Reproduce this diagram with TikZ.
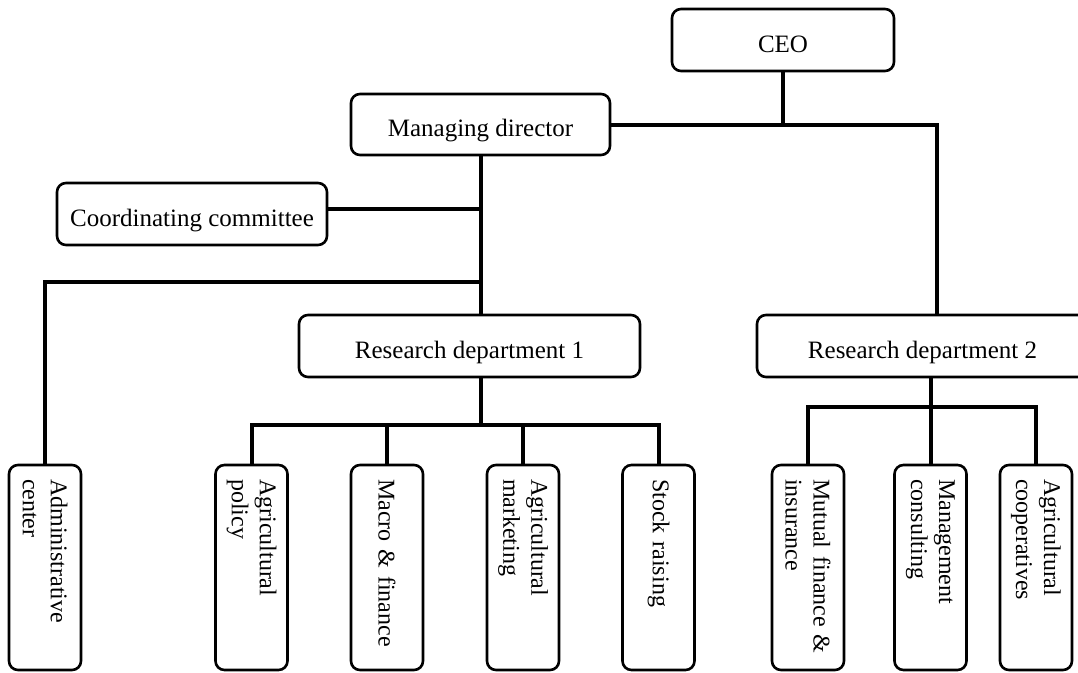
\documentclass[tikz,border=0pt]{standalone}
\usepackage{fontspec}
\setmainfont{Liberation Serif}
\usetikzlibrary{positioning}

\begin{document}
\begin{tikzpicture}[x=1pt,y=-1pt,
    box/.style={draw,line width=2.6pt,rounded corners=9pt,
      font=\fontsize{25}{29}\selectfont,text height=24pt,text depth=0pt,
      minimum height=62pt},
    unit/.style={draw,line width=2.6pt,rounded corners=9pt,rotate=-90,
      font=\fontsize{24}{28}\selectfont,minimum width=205pt,minimum height=72pt,
      inner xsep=14pt,text width=177pt,align=left},
    link/.style={line width=4pt}]
  \useasboundingbox (0,0) rectangle (1078,672);
  \clip (0,0) rectangle (1078,672);

  \node[box,minimum width=222pt] (ceo) at (783,40) {CEO};
  \node[box,minimum width=259pt,minimum height=61pt] (md) at (480.5,124.5) {Managing director};
  \node[box,minimum width=270pt] (coord) at (192,214) {Coordinating committee};
  \node[box,minimum width=341pt] (rd1) at (469.5,346) {Research department 1};
  \node[box,minimum width=331pt] (rd2) at (922.5,346) {Research department 2};

  % units
  \node[unit] (admin) at (45,567.5) {Administrative\\center};
  \node[unit] (policy) at (251.5,567.5) {Agricultural\\policy};
  \node[unit] (macro) at (387,567.5) {Macro \& finance};
  \node[unit] (marketing) at (523,567.5) {Agricultural\\marketing};
  \node[unit] (stock) at (658.5,567.5) {Stock raising};
  \node[unit] (mutual) at (808,567.5) {Mutual finance \&\\insurance};
  \node[unit] (consult) at (930.5,567.5) {Management\\consulting};
  \node[unit] (coop) at (1036,567.5) {Agricultural\\cooperatives};

  \coordinate (rd2in) at ([xshift=14.5pt]rd2.north);
  \coordinate (hub) at (md.south |- 0,282);
  \coordinate (bus1) at (md.south |- 0,425);
  \coordinate (bus2) at (consult.west |- 0,407);

  \draw[link] (ceo.south) -- (ceo.south |- md.east);
  \draw[link] (md.east) -| (rd2in);
  \draw[link] (md.south) -- (md.south |- rd1.north);
  \draw[link] ([yshift=5pt]coord.east) -- ([yshift=5pt]coord.east -| md.south);
  \draw[link] (hub) -| (admin.west);

  \draw[link] (md.south |- rd1.south) -- (bus1);
  \draw[link] (policy.west) |- (bus1) -| (stock.west);
  \draw[link] (macro.west) -- (macro.west |- bus1);
  \draw[link] (marketing.west) -- (marketing.west |- bus1);

  \draw[link] (consult.west |- rd2.south) -- (consult.west);
  \draw[link] (mutual.west) |- (bus2) -| (coop.west);
\end{tikzpicture}
\end{document}
